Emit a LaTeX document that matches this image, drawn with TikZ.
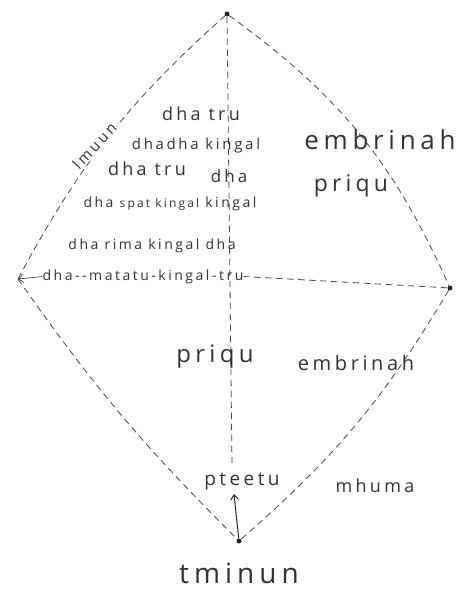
\documentclass[tikz,border=0pt]{standalone}
\usepackage{fontspec}
\newfontfamily\hand[LetterSpace=18]{Open Sans}
\usetikzlibrary{arrows.meta}
\begin{document}
\begin{tikzpicture}[x=1pt,y=-1pt,
  edge/.style={draw=black!72, dash pattern=on 6.5pt off 4.5pt, line width=0.8pt},
  lbl/.style={text=black!80, font=\hand\fontsize{#1}{#1}\selectfont, inner sep=0pt, anchor=mid},
  dot/.style={circle, fill=black!85, inner sep=0pt, minimum size=5pt},
  arr/.style={draw=black!85, -{Straight Barb[length=5pt,width=8pt]}}]
\useasboundingbox (0,0) rectangle (474,593);
\fill[white] (0,0) rectangle (474,593);
% vertices
\node[dot] (T) at (227,14) {};
\node[dot] (R) at (450,288) {};
\node[dot] (B) at (239,541) {};
\coordinate (L) at (18,279);
\coordinate (V) at (232,465);
\coordinate (ptA) at (234,494);
% outline
\draw[edge] (T) to[bend left=15] (R);
\draw[edge] (T) to[bend right=10] (L);
\draw[edge] (L) to[bend right=5] (B);
\draw[edge] (R) to[bend left=9] (B);
\draw[edge] (T) -- (V);
% labels
\node[lbl=15, rotate=47, fill=white, inner sep=1pt] (lm) at (97,148) {lmuun};
\node[lbl=18] (t1) at (201,118) {dha tru};
\node[lbl=15] (t2) at (196,147) {dha\,dha kingal};
\node[lbl=18] (t3) at (147,173) {dha tru};
\node[lbl=17] (t4) at (229,180) {dha};
\node[lbl=14] (t5) at (170,205) {dha {\fontsize{12}{12}\selectfont spat kingal} kingal};
\node[lbl=14] (t6) at (152,247) {dha rima kingal dha};
\node[lbl=14] (m) at (143,278) {dha--matatu-kingal-tru};
\draw[edge] (R) -- (m.east);
\draw[arr, line width=0.6pt] (m.west) -- (L);
\node[lbl=26] (e1) at (380,147) {embrinah};
\node[lbl=23] (p1) at (351,189) {priqu};
\node[lbl=24] (p2) at (215,360) {priqu};
\node[lbl=20] (e2) at (356,368) {embrinah};
\node[lbl=19] (pt) at (242,483) {pteetu};
\node[lbl=18] (mh) at (375,490) {mhuma};
\node[lbl=28] (tm) at (239,581) {tminun};
\draw[arr, line width=1pt] (B) -- (ptA);
\end{tikzpicture}
\end{document}
